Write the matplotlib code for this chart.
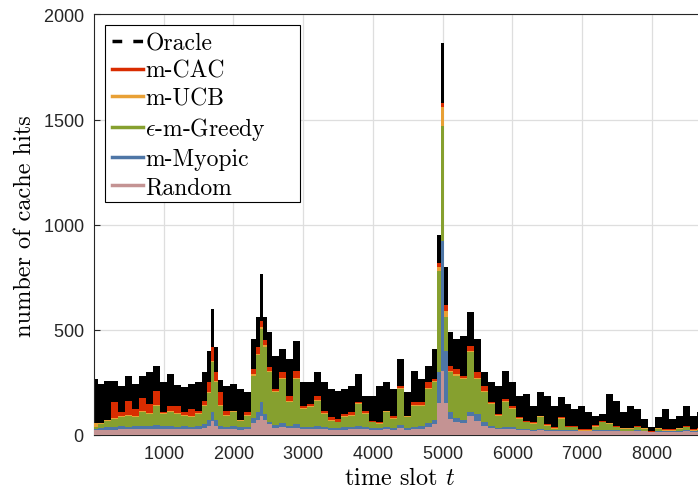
import numpy as np
import matplotlib.pyplot as plt
from matplotlib.lines import Line2D
from matplotlib.patches import Rectangle

plt.rcParams['mathtext.fontset'] = 'cm'
plt.rcParams['axes.formatter.use_mathtext'] = True

slots = [0, 100, 200, 300, 400, 500, 600, 700, 800, 900, 1000, 1100, 1200, 1300,
         1400, 1500, 1600, 1650, 1700, 1750, 1800, 1900, 2000, 2100, 2200, 2300,
         2350, 2400, 2450, 2500, 2600, 2700, 2800, 2900, 3000, 3100, 3200, 3300,
         3400, 3500, 3600, 3700, 3800, 3900, 4000, 4100, 4200, 4300, 4400, 4500,
         4600, 4700, 4800, 4900, 4950, 5000, 5050, 5100, 5200, 5300, 5400, 5500,
         5600, 5700, 5800, 5900, 6000, 6100, 6200, 6300, 6400, 6500, 6600, 6700,
         6800, 6900, 7000, 7100, 7200, 7300, 7400, 7500, 7600, 7700, 7800, 7900,
         8000, 8100, 8200, 8300, 8400, 8500, 8600, 8700, 8760]

oracle = [267, 243, 259, 259, 235, 282, 243, 282, 300, 330, 250, 290, 240, 227,
          243, 251, 298, 400, 600, 420, 260, 235, 243, 219, 203, 457,
          560, 767, 560, 489, 378, 410, 362, 449, 251, 251, 298, 251,
          219, 211, 219, 235, 290, 187, 187, 235, 251, 219, 362, 203,
          306, 267, 330, 410, 950, 1862, 800, 489, 457, 473, 584, 457,
          300, 251, 235, 306, 251, 187, 195, 140, 203, 187, 140, 179,
          148, 124, 140, 108, 92, 100, 195, 163, 108, 140, 124, 76,
          37, 84, 124, 76, 92, 140, 92, 110, 90]

m_cac = [45, 55, 70, 156, 108, 163, 124, 175, 148, 211, 108, 140, 140, 108,
         124, 116, 163, 250, 417, 300, 203, 116, 116, 68, 108, 314,
         420, 544, 450, 322, 219, 298, 187, 306, 140, 148, 187, 116,
         84, 76, 100, 108, 156, 116, 68, 60, 116, 92, 235, 92,
         156, 156, 251, 267, 820, 1581, 620, 330, 314, 282, 425, 298,
         235, 156, 100, 171, 140, 84, 68, 60, 92, 52, 37, 84,
         44, 44, 29, 29, 46, 66, 58, 43, 35, 35, 43, 35,
         19, 35, 27, 27, 35, 43, 27, 31, 28]

m_ucb = [55, 58, 70, 80, 88, 96, 88, 112, 104, 145, 104, 112, 104, 96,
         88, 104, 145, 205, 352, 256, 145, 96, 112, 70, 96, 288,
         386, 512, 426, 304, 208, 273, 160, 273, 128, 136, 167, 104,
         72, 64, 88, 96, 152, 104, 64, 56, 112, 80, 224, 88,
         144, 144, 224, 256, 800, 1560, 590, 304, 288, 273, 400, 273,
         208, 152, 96, 160, 128, 80, 64, 56, 88, 48, 32, 80,
         40, 40, 24, 24, 43, 63, 55, 40, 32, 32, 40, 32,
         16, 32, 24, 24, 32, 40, 24, 28, 25]

greedy = [37, 52, 68, 76, 84, 92, 84, 108, 100, 140, 100, 108, 100, 92,
          84, 100, 140, 200, 346, 250, 140, 92, 108, 68, 92, 282,
          380, 505, 420, 298, 203, 267, 156, 267, 124, 132, 163, 100,
          68, 60, 84, 92, 148, 100, 60, 52, 108, 76, 219, 84,
          140, 140, 219, 251, 780, 1471, 560, 298, 282, 267, 394, 267,
          203, 148, 92, 156, 124, 76, 60, 52, 84, 44, 29, 76,
          37, 37, 21, 21, 40, 60, 52, 37, 29, 29, 37, 29,
          13, 29, 21, 21, 29, 37, 21, 25, 22]

myopic = [30, 35, 38, 40, 42, 40, 42, 44, 42, 48, 44, 42, 40, 42,
          40, 42, 50, 70, 108, 70, 45, 40, 42, 38, 40, 80,
          110, 156, 100, 60, 48, 55, 45, 50, 40, 40, 44, 38,
          35, 34, 36, 38, 44, 38, 34, 32, 38, 34, 48, 34,
          40, 42, 55, 70, 300, 924, 400, 108, 80, 70, 108, 100,
          60, 45, 35, 40, 38, 30, 28, 26, 30, 24, 22, 26,
          22, 22, 20, 20, 22, 24, 24, 22, 20, 20, 22, 20,
          16, 20, 18, 18, 20, 22, 18, 19, 18]

rand_hits = [22, 24, 25, 26, 27, 27, 28, 28, 28, 30, 28, 28, 27, 27,
             27, 28, 32, 45, 68, 45, 30, 27, 28, 26, 27, 55,
             70, 92, 70, 52, 35, 38, 32, 35, 28, 28, 30, 27,
             25, 25, 26, 27, 30, 27, 25, 24, 27, 25, 32, 25,
             28, 30, 38, 50, 150, 305, 150, 76, 60, 55, 92, 68,
             45, 35, 28, 30, 28, 24, 22, 21, 22, 20, 18, 20,
             18, 18, 17, 17, 18, 19, 19, 18, 17, 17, 18, 17,
             14, 16, 15, 15, 16, 17, 15, 16, 15]

series = [
    ("Oracle", oracle, "black"),
    ("m-CAC", m_cac, "#d92c00"),
    ("m-UCB", m_ucb, "#e8a035"),
    (r"$\epsilon$-m-Greedy", greedy, "#86a02f"),
    ("m-Myopic", myopic, "#4e76a6"),
    ("Random", rand_hits, "#c49393"),
]

fig = plt.figure(figsize=(6.98, 4.89), dpi=100)
ax = fig.add_axes([0.1347, 0.1084, 0.8748, 0.86])

t = np.array(slots)
handles = []
for i, (name, vals, col) in enumerate(series):
    ax.fill_between(t, 0, vals, color=col, lw=0, step='mid', zorder=2 + i)
    ls = (0, (2.8, 3.2)) if name == "Oracle" else '-'
    handles.append(Line2D([], [], color=col, lw=2.5, ls=ls))

ax.set_xlim(0, 8760)
ax.set_ylim(0, 2000)
ax.set_xticks(range(1000, 9000, 1000))
ax.set_yticks([0, 500, 1000, 1500, 2000])
ax.grid(True, color='#dedede', lw=0.9, zorder=0)
ax.set_axisbelow(True)
ax.tick_params(direction='in', length=4, labelsize=13, colors='#262626',
               pad=7)
for lab in ax.get_xticklabels() + ax.get_yticklabels():
    lab.set_fontfamily('Liberation Sans')
for s in ax.spines.values():
    s.set_color('#262626')
    s.set_linewidth(0.8)

ax.set_xlabel("time slot $t$", fontfamily='cmr10', fontsize=17.5, labelpad=4)
ax.set_ylabel("number of cache hits", fontfamily='cmr10', fontsize=17.5,
              labelpad=5)

# legend box is wider than its text, as in the original
box = Rectangle((0.018, 0.554), 0.32, 0.421, transform=ax.transAxes,
                facecolor='white', edgecolor='black', lw=0.8, zorder=19)
ax.add_patch(box)
leg = ax.legend(handles, [s[0] for s in series], loc='upper left',
                bbox_to_anchor=(0.018, 0.975), borderaxespad=0,
                prop={'family': 'cmr10', 'size': 17}, handlelength=1.3,
                handletextpad=0.1, labelspacing=0.24, borderpad=0.3,
                frameon=False)
leg.set_zorder(20)

fig.savefig("out.png", dpi=100)
